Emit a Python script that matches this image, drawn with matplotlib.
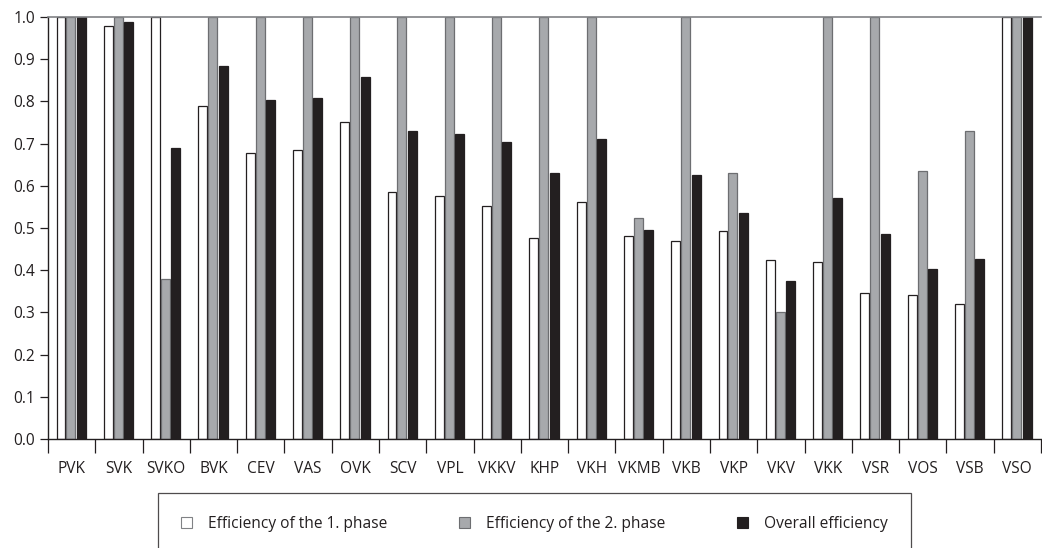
import matplotlib
matplotlib.use("Agg")
import matplotlib.pyplot as plt
import numpy as np
from matplotlib.patches import Patch

categories = ["PVK", "SVK", "SVKO", "BVK", "CEV", "VAS", "OVK", "SCV", "VPL", "VKKV",
              "KHP", "VKH", "VKMB", "VKB", "VKP", "VKV", "VKK", "VSR", "VOS", "VSB", "VSO"]
phase1 = [1.0, 0.979, 1.0, 0.79, 0.678, 0.685, 0.752, 0.585, 0.575, 0.553,
          0.476, 0.561, 0.482, 0.470, 0.493, 0.425, 0.419, 0.346, 0.342, 0.320, 1.0]
phase2 = [1.0, 1.0, 0.378, 1.0, 1.0, 1.0, 1.0, 1.0, 1.0, 1.0,
          1.0, 1.0, 0.523, 1.0, 0.630, 0.300, 1.0, 1.0, 0.635, 0.731, 1.0]
overall = [1.0, 0.989, 0.690, 0.883, 0.804, 0.808, 0.857, 0.730, 0.723, 0.704,
           0.630, 0.711, 0.496, 0.626, 0.535, 0.374, 0.571, 0.486, 0.404, 0.427, 1.0]
legend_labels = ["Efficiency of the 1. phase", "Efficiency of the 2. phase", "Overall efficiency"]
yticks = [0.0, 0.1, 0.2, 0.3, 0.4, 0.5, 0.6, 0.7, 0.8, 0.9, 1.0]

plt.rcParams['font.family'] = ['Open Sans', 'DejaVu Sans']
FS = 11.2

W, H = 1042, 548
fig = plt.figure(figsize=(W / 100, H / 100), dpi=100)
ax = fig.add_axes([48 / W, 1 - 439 / H, (1041 - 48) / W, (439 - 17) / H])

x = np.arange(len(categories))
bw = 0.19
c_white, c_gray, c_black = "#ffffff", "#a7a9ac", "#231f20"
ax.bar(x - 0.225, phase1, bw, color=c_white, edgecolor="#231f20", linewidth=0.9, zorder=2)
ax.bar(x - 0.015, phase2, bw, color=c_gray, edgecolor="#6d6e71", linewidth=0.9, zorder=2)
ax.bar(x + 0.205, overall, bw, color=c_black, edgecolor=c_black, linewidth=0.9, zorder=2)

ax.set_xlim(-0.5, len(categories) - 0.5)
ax.set_ylim(0, 1.0)
ax.set_yticks(yticks)
ax.set_yticklabels([f"{v:.1f}" for v in yticks], fontsize=FS, color="#231f20")
ax.set_xticks(x)
ax.set_xticklabels(categories, fontsize=FS, color="#231f20")
ax.tick_params(axis='x', which='major', length=0, pad=16)
ax.set_xticks(np.arange(len(categories) + 1) - 0.5, minor=True)
ax.tick_params(axis='x', which='minor', length=10, width=0.9, color="#231f20", direction='out')
ax.tick_params(axis='y', which='major', length=6, width=0.9, color="#231f20", direction='out', pad=3)

for s in ["left", "bottom"]:
    ax.spines[s].set_color("#231f20")
    ax.spines[s].set_linewidth(1.0)
ax.spines["top"].set_color("#808285")
ax.spines["top"].set_linewidth(1.2)
ax.spines["right"].set_visible(False)

handles = [Patch(facecolor=c_white, edgecolor="#808285", linewidth=0.8),
           Patch(facecolor=c_gray, edgecolor="#6d6e71", linewidth=0.8),
           Patch(facecolor=c_black, edgecolor=c_black, linewidth=0.8)]
leg = fig.legend(handles, legend_labels, ncol=3, loc='upper left',
                 bbox_to_anchor=(158 / W, 1 - 493 / H), fontsize=FS,
                 frameon=True, fancybox=False, edgecolor="#231f20",
                 handlelength=0.7, handleheight=0.7, handletextpad=1.0,
                 columnspacing=4.65, borderpad=1.5, borderaxespad=0)
leg.get_frame().set_linewidth(0.9)
for t in leg.get_texts():
    t.set_color("#231f20")

fig.savefig("out.png", dpi=100)
